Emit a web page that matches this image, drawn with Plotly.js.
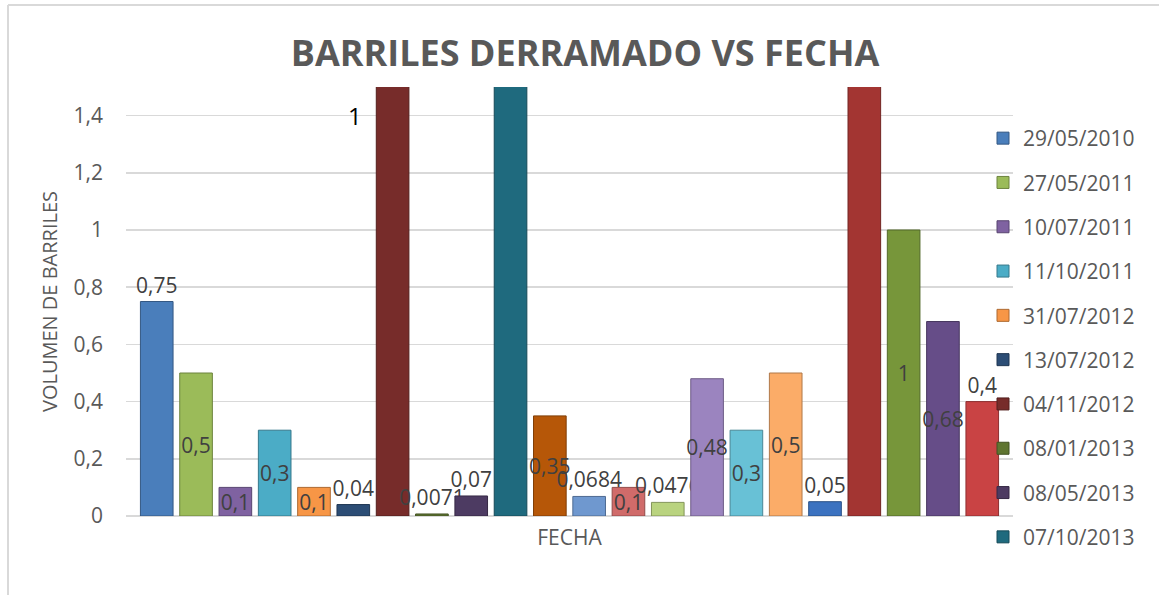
<!DOCTYPE html>
<html>
<head>
<meta charset="utf-8">
<script src="https://cdn.plot.ly/plotly-3.0.1.min.js"></script>
<style>
  html, body { margin: 0; padding: 0; background: #ffffff; }
  #chart { width: 1159px; height: 595px; }
</style>
</head>
<body>
<div id="chart"></div>
<script>
// ---- Data ----
const seriesNames = [
  "29/05/2010", "27/05/2011", "10/07/2011", "11/10/2011", "31/07/2012",
  "13/07/2012", "04/11/2012", "08/01/2013", "08/05/2013", "07/10/2013",
  "Serie 11", "Serie 12", "Serie 13", "Serie 14", "Serie 15", "Serie 16",
  "Serie 17", "Serie 18", "Serie 19", "Serie 20", "Serie 21", "Serie 22"
];
// barrels spilled per event (three bars exceed the 1.5 axis limit; estimated)
const barrelValues = [
  0.75, 0.5, 0.1, 0.3, 0.1, 0.04, 3, 0.0071, 0.07, 2,
  0.35, 0.0684, 0.1, 0.0476, 0.48, 0.3, 0.5, 0.05, 2, 1, 0.68, 0.4
];
const yTickValues = [0, 0.2, 0.4, 0.6, 0.8, 1, 1.2, 1.4];

// ---- Styles ----
const barColors = [
  "#4a7ebb", "#9bbb59", "#7f62a1", "#4bacc6", "#f79646", "#2c4d75",
  "#772c2a", "#5f7530", "#4d3b62", "#1f6a7e", "#b65708", "#6f98cf",
  "#d06b6a", "#b9d37f", "#9b84bf", "#68c1d6", "#fbac68", "#3b72c0",
  "#a33532", "#77963a", "#664d88", "#c94344"
];
const labelPlacement = [
  "outside", "inside", "inside", "inside", "inside", "outside", "none", "outside",
  "outside", "none", "inside", "outside", "inside", "outside", "inside", "inside",
  "inside", "outside", "none", "inside", "inside", "outside"
];

function darker(hex, f) {
  const n = parseInt(hex.slice(1), 16);
  const r = Math.round(((n >> 16) & 255) * f);
  const g = Math.round(((n >> 8) & 255) * f);
  const b = Math.round((n & 255) * f);
  return "rgb(" + r + "," + g + "," + b + ")";
}
function fmt(v) { return String(v).replace(".", ","); }

const FONT = "Open Sans, Liberation Sans, DejaVu Sans, sans-serif";
const traces = barrelValues.map(function (v, i) {
  return {
    type: "bar",
    x: [0],
    y: [v],
    name: seriesNames[i],
    legendgroup: "g" + i,
    showlegend: i < 10,
    marker: { color: barColors[i], line: { color: darker(barColors[i], 0.7), width: 1 } },
    text: labelPlacement[i] === "none" ? [""] : [fmt(v)],
    textposition: labelPlacement[i] === "none" ? "none" : labelPlacement[i],
    insidetextanchor: "middle",
    constraintext: "none",
    textangle: 0,
    cliponaxis: true,
    textfont: { family: FONT, size: 21, color: "#404040" },
    insidetextfont: { family: FONT, size: 21, color: "#404040" },
    outsidetextfont: { family: FONT, size: 21, color: "#404040" },
    hoverinfo: "name+y"
  };
});

const L = 126, R = 1013, T = 87, B = 516, W = 1159, H = 595;
const px = function (x) { return (x - L) / (R - L); };
const py = function (y) { return (B - y) / (B - T); };

const layout = {
  width: W, height: H,
  margin: { l: L, r: W - R, t: T, b: H - B, pad: 0 },
  paper_bgcolor: "#ffffff",
  plot_bgcolor: "#ffffff",
  separators: ",.",
  barmode: "group",
  bargap: 0.025,
  bargroupgap: 0.17,
  font: { family: FONT, color: "#595959" },
  title: {
    text: "BARRILES DERRAMADO VS FECHA",
    font: { family: FONT, size: 36, color: "#595959", weight: "bold" },
    x: 585 / W, xref: "container", xanchor: "center",
    y: 1 - 53 / H, yref: "container", yanchor: "middle"
  },
  xaxis: {
    range: [-0.5, 0.5],
    showticklabels: false, showgrid: false, zeroline: false, showline: false, ticks: "",
    title: { text: "FECHA", font: { family: FONT, size: 21, color: "#595959" }, standoff: 14 },
    fixedrange: true
  },
  yaxis: {
    range: [0, 1.5],
    tickmode: "array", tickvals: yTickValues,
    showgrid: true, gridcolor: "#d9d9d9", gridwidth: 1.5,
    zeroline: true, zerolinecolor: "#d9d9d9", zerolinewidth: 1.5,
    showline: false, ticks: "",
    ticklabelstandoff: 22,
    tickfont: { family: FONT, size: 21, color: "#595959" },
    title: { text: "VOLUMEN DE BARRILES", font: { family: FONT, size: 20, color: "#595959" }, standoff: 10 },
    fixedrange: true
  },
  legend: {
    x: px(983), xref: "paper", xanchor: "left",
    y: py(118), yref: "paper", yanchor: "top",
    traceorder: "grouped",
    tracegroupgap: 14,
    maxheight: 590,
    font: { family: FONT, size: 21, color: "#595959" },
    bgcolor: "rgba(0,0,0,0)", borderwidth: 0
  },
  annotations: [{
    text: "1", xref: "paper", yref: "paper", x: px(355), y: py(115),
    xanchor: "center", yanchor: "middle", showarrow: false,
    font: { family: FONT, size: 24, color: "#000000" }
  }],
  shapes: [
    { type: "line", xref: "paper", yref: "paper", x0: px(8), x1: px(8), y0: py(5), y1: py(H + 5),
      line: { color: "#d9d9d9", width: 2 } },
    { type: "line", xref: "paper", yref: "paper", x0: px(8), x1: px(W + 5), y0: py(5), y1: py(5),
      line: { color: "#d9d9d9", width: 2 } }
  ]
};

Plotly.newPlot("chart", traces, layout, { displayModeBar: false, staticPlot: true });
</script>
</body>
</html>
